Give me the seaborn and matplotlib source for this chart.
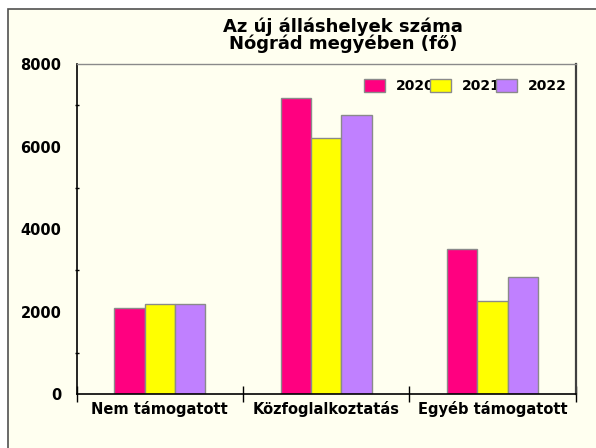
import seaborn as sns
import matplotlib.pyplot as plt
import pandas as pd
from matplotlib.patches import Rectangle
from matplotlib.ticker import MultipleLocator, FixedLocator

# adatok
categories = ['Nem támogatott', 'Közfoglalkoztatás', 'Egyéb támogatott']
years = ['2020', '2021', '2022']
v2020 = [2100, 7180, 3510]
v2021 = [2190, 6200, 2260]
v2022 = [2190, 6760, 2835]

colors = {'2020': '#FF0080', '2021': '#FFFF00', '2022': '#C080FF'}

rows = []
for yr, vals in zip(years, [v2020, v2021, v2022]):
    for cat, v in zip(categories, vals):
        rows.append({'Kategória': cat, 'Év': yr, 'Fő': v})
df = pd.DataFrame(rows)

sns.set_style("white")
plt.rcParams['font.family'] = ['DejaVu Sans']
plt.rcParams['font.weight'] = 'bold'
plt.rcParams.update({'text.color': 'black', 'xtick.color': 'black', 'ytick.color': 'black',
                     'axes.labelcolor': 'black'})

fig = plt.figure(figsize=(5.96, 4.48), dpi=100)
fig.patch.set_facecolor('white')
# krém háttér kerettel (jobbra, lent kilóg a képből)
fig.add_artist(Rectangle((8.3 / 596, -0.05), 1.0, 1 - 8.7 / 448 + 0.05,
                         transform=fig.transFigure, facecolor='#FFFFF0',
                         edgecolor='#505050', lw=1.2, zorder=0))

ax = fig.add_axes([76.7 / 596, 1 - 394.3 / 448, (575.7 - 76.7) / 596, (394.3 - 64) / 448])
ax.set_facecolor('#FFFFF0')

sns.barplot(data=df, x='Kategória', y='Fő', hue='Év', order=categories, hue_order=years,
            palette=colors, width=0.547, edgecolor='#8a8a8a', linewidth=1.0,
            saturation=1, ax=ax)

ax.set_xlim(-0.5, 2.5)
ax.set_ylim(0, 8000)
ax.set_xlabel('')
ax.set_ylabel('')

ax.yaxis.set_major_locator(MultipleLocator(2000))
ax.yaxis.set_minor_locator(MultipleLocator(1000))
ax.xaxis.set_minor_locator(FixedLocator([-0.5, 0.5, 1.5, 2.5]))
ax.tick_params(axis='y', which='major', direction='inout', length=8, width=1, colors='black',
               labelsize=10.5, pad=7)
ax.tick_params(axis='y', which='minor', direction='inout', length=3.5, width=1, color='black', left=True)
ax.tick_params(axis='x', which='major', length=0, labelsize=10.5, pad=4.7, colors='black')
ax.tick_params(axis='x', which='minor', direction='inout', length=11, width=1, color='black', bottom=True)
for lab in ax.get_xticklabels() + ax.get_yticklabels():
    lab.set_fontweight('bold')

for side in ['left', 'bottom']:
    ax.spines[side].set_color('black')
    ax.spines[side].set_linewidth(1.2)
ax.spines['top'].set_color('#8a8a8a')
ax.spines['top'].set_linewidth(1.0)
ax.spines['right'].set_color('#404040')
ax.spines['right'].set_linewidth(1.6)

# jelmagyarázat
handles, labels = ax.get_legend_handles_labels()
ax.get_legend().remove()
fs = 10.0
px = fs * 100 / 72
leg = ax.legend(handles, labels, ncol=3, loc='center left',
                bbox_to_anchor=(364 / 596, 1 - 86 / 448), bbox_transform=fig.transFigure,
                frameon=False, borderpad=0, borderaxespad=0,
                handlelength=21 / px, handleheight=16 / px, handletextpad=11 / px,
                columnspacing=-5 / px, prop={'size': fs, 'weight': 'bold'})
for t in leg.get_texts():
    t.set_color('black')

# cím (két sor, egy szövegben)
fig.text(343 / 596, 1 - 35.5 / 448, 'Az új álláshelyek száma\nNógrád megyében (fő)',
         ha='center', va='center', ma='center', linespacing=0.9,
         fontsize=13, fontweight='bold', color='black')

plt.savefig('out.png', dpi=100)
